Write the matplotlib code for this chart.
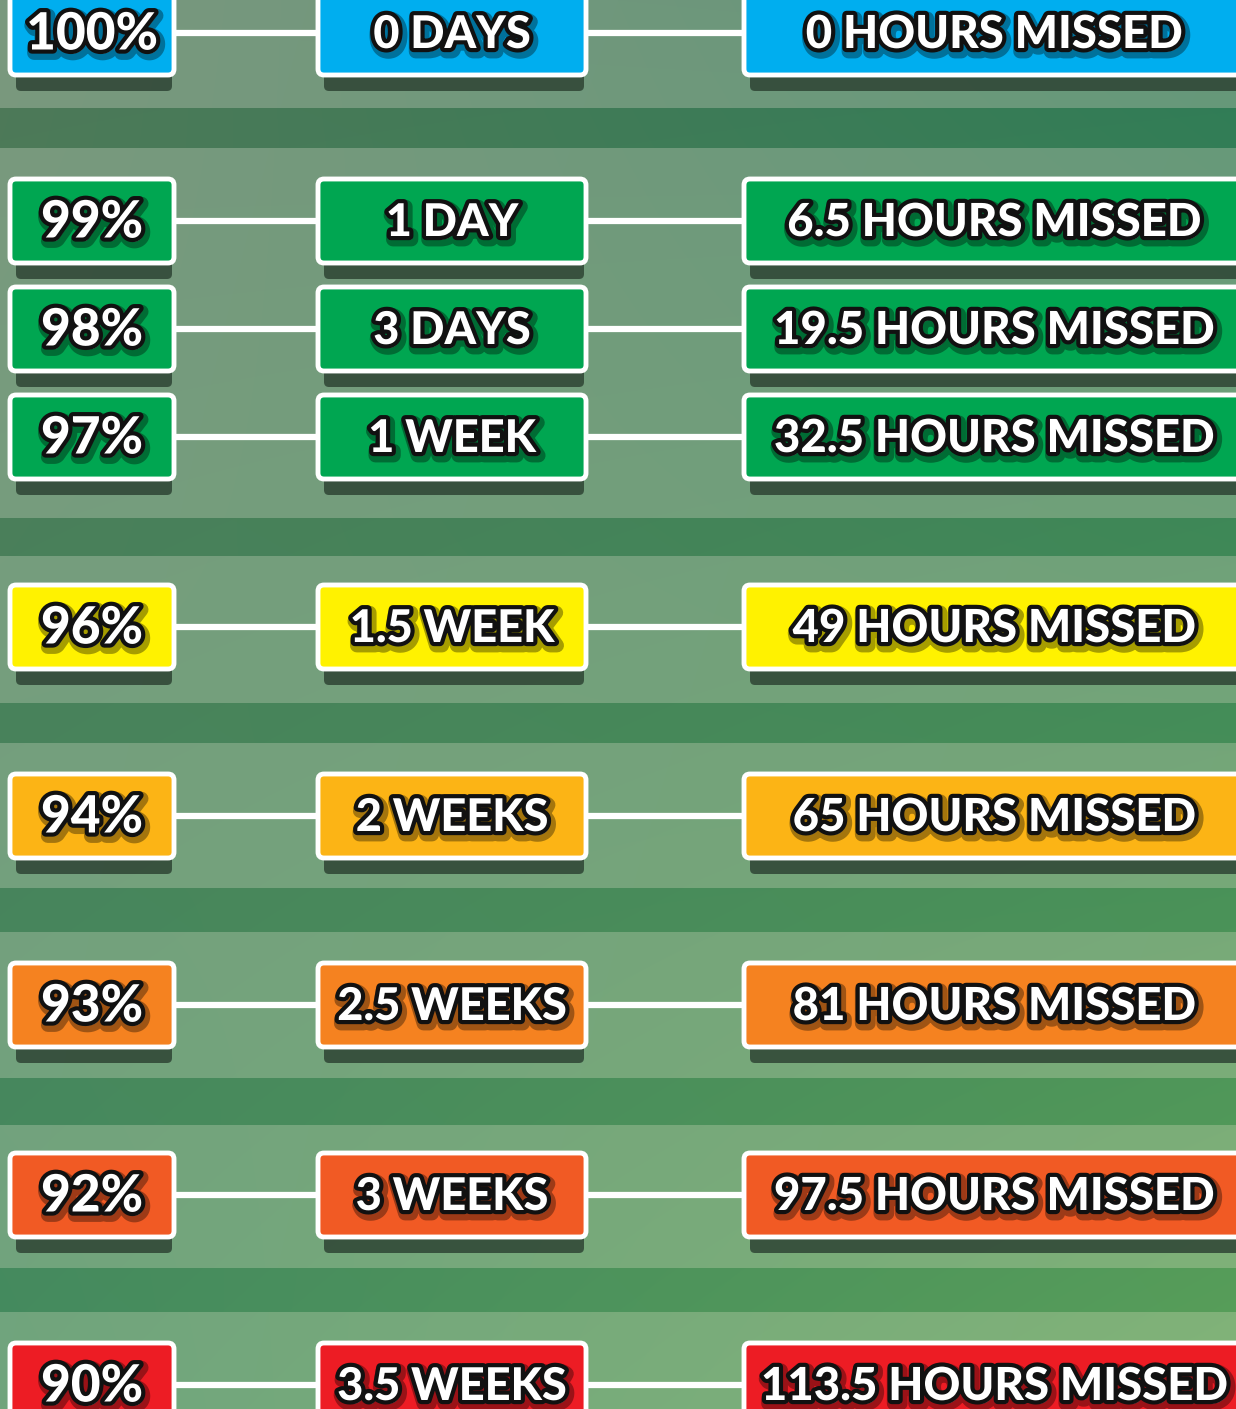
import matplotlib
matplotlib.use("Agg")
import matplotlib.pyplot as plt
import matplotlib.patheffects as pe
from matplotlib.patches import FancyBboxPatch
import numpy as np

# data
percents = ["100%", "99%", "98%", "97%", "96%", "94%", "93%", "92%", "90%"]
days = ["0 DAYS", "1 DAY", "3 DAYS", "1 WEEK", "1.5 WEEK", "2 WEEKS",
        "2.5 WEEKS", "3 WEEKS", "3.5 WEEKS"]
hours = ["0 HOURS MISSED", "6.5 HOURS MISSED", "19.5 HOURS MISSED",
         "32.5 HOURS MISSED", "49 HOURS MISSED", "65 HOURS MISSED",
         "81 HOURS MISSED", "97.5 HOURS MISSED", "113.5 HOURS MISSED"]
colors = ["#00aeef", "#00a651", "#00a651", "#00a651", "#fff200", "#fcb415",
          "#f58220", "#f15a24", "#ed1c24"]

# layout (pixels)
W, H = 1236, 1409
row_y = [33, 221, 329, 437, 627, 816, 1005, 1195, 1385]
cols = [(8, 176), (316, 588), (742, 1248)]
col_text_x = [92, 452, 994]
col_fs = [37, 32.5, 32.8]
box_h = 88
stripes = [(108, 148), (518, 556), (703, 743), (888, 932), (1078, 1125), (1268, 1312)]

fig = plt.figure(figsize=(W / 100, H / 100), dpi=100)
ax = fig.add_axes([0, 0, 1, 1])
ax.set_xlim(0, W)
ax.set_ylim(H, 0)
ax.axis("off")

# background gradient
def bilinear(tl, tr, bl, br):
    yy, xx = np.mgrid[0:1:H * 1j, 0:1:W * 1j]
    tl, tr, bl, br = [np.array(c, float) / 255 for c in (tl, tr, bl, br)]
    top = tl[None, None] * (1 - xx[..., None]) + tr[None, None] * xx[..., None]
    bot = bl[None, None] * (1 - xx[..., None]) + br[None, None] * xx[..., None]
    return top * (1 - yy[..., None]) + bot * yy[..., None]

light = bilinear((122, 152, 126), (100, 150, 122), (112, 165, 125), (130, 180, 120))
dark = bilinear((78, 120, 88), (46, 122, 86), (68, 140, 95), (90, 160, 90))
bg = light.copy()
for y0, y1 in stripes:
    bg[y0:y1] = dark[y0:y1]
ax.imshow(bg, extent=(0, W, H, 0), aspect="auto", zorder=0)

txt_fx = [pe.Stroke(linewidth=10, foreground=(0, 0, 0, 0.35), offset=(1.5, -2.5)),
          pe.Stroke(linewidth=6, foreground="#111111"),
          pe.Normal()]

for i, y in enumerate(row_y):
    # connectors
    ax.plot([cols[0][1], cols[1][0]], [y, y], color="white", lw=4.5, zorder=1,
            solid_capstyle="butt")
    ax.plot([cols[1][1], cols[2][0]], [y, y], color="white", lw=4.5, zorder=1,
            solid_capstyle="butt")
    labels = [percents[i], days[i], hours[i]]
    for (x0, x1), lab, tx, fs in zip(cols, labels, col_text_x, col_fs):
        top = y - box_h / 2
        shadow = FancyBboxPatch((x0 + 8, top + 14), x1 - x0 - 12, box_h,
                                boxstyle="round,pad=0,rounding_size=5",
                                fc="#2e4434", ec="none", alpha=0.85, zorder=2)
        ax.add_patch(shadow)
        box = FancyBboxPatch((x0 + 2, top + 2), x1 - x0 - 4, box_h - 4,
                             boxstyle="round,pad=0,rounding_size=6",
                             fc=colors[i], ec="white", lw=3.5, zorder=3)
        ax.add_patch(box)
        ax.text(tx, y + 2, lab, ha="center", va="center", color="white",
                fontsize=fs, fontfamily="Lato", fontweight="black",
                path_effects=txt_fx, zorder=4)

fig.savefig("out.png", dpi=100)
